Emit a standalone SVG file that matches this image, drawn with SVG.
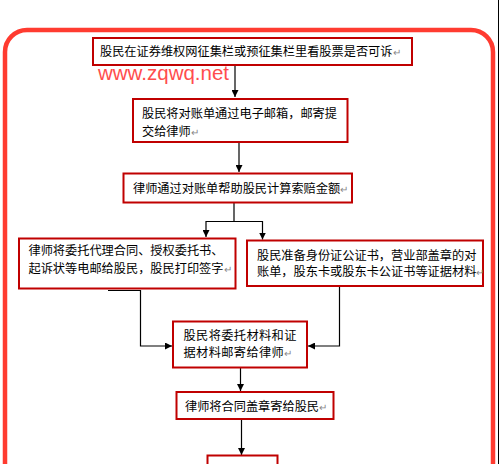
<svg xmlns="http://www.w3.org/2000/svg" width="500" height="464" viewBox="0 0 500 464">
<style>
.box{fill:#fff;stroke:#c00000;stroke-width:2}
.t{font-family:"Noto Sans CJK SC","Noto Sans",sans-serif;font-size:12.2px;fill:#000}
.pm{fill:#888;font-size:10px}
.c{fill:none;stroke:#000;stroke-width:1.2}
</style>
<defs>
<marker id="ah" viewBox="0 0 8 8" refX="8" refY="4" markerWidth="7" markerHeight="7" markerUnits="userSpaceOnUse" orient="auto">
<path d="M0,0 L8,4 L0,8 z" fill="#000"/>
</marker>
</defs>
<rect width="500" height="464" fill="#fff"/>
<line x1="498.5" y1="0" x2="498.5" y2="464" stroke="#000" stroke-width="1"/>
<rect id="frame" x="5" y="30" width="488" height="500" rx="22" fill="none" stroke="#ff3b30" stroke-width="4.5"/>
<text id="watermark" x="98" y="80" font-family="Liberation Sans, Arial, sans-serif" font-size="20.5" fill="#ff4d4d">www.zqwq.net</text>

<g id="connectors">
<path class="c" d="M235,65 V97" marker-end="url(#ah)"/>
<path class="c" d="M239,137 V172" marker-end="url(#ah)"/>
<path class="c" d="M234,203 V221.5 H206 V237" marker-end="url(#ah)"/>
<path class="c" d="M234,221.5 H262.5 V239.5" marker-end="url(#ah)"/>
<path class="c" d="M108,290.5 H140.5 V346 H172" marker-end="url(#ah)"/>
<path class="c" d="M371.5,286 H339.5 V346 H308" marker-end="url(#ah)"/>
<path class="c" d="M240.5,368 V391" marker-end="url(#ah)"/>
<path class="c" d="M241.5,420 V455" marker-end="url(#ah)"/>
</g>

<g id="n1">
<rect class="box" x="93" y="38" width="319" height="27"/>
<text class="t" x="100" y="56">股民在证券维权网征集栏或预征集栏里看股票是否可诉<tspan class="pm">↵</tspan></text>
</g>
<g id="n2">
<rect class="box" x="133" y="99" width="214.5" height="43"/>
<text class="t" x="142" y="117.5">股民将对账单通过电子邮箱，邮寄提</text>
<text class="t" x="142" y="135.5">交给律师<tspan class="pm">↵</tspan></text>
</g>
<g id="n3">
<rect class="box" x="123.5" y="173.5" width="228.5" height="29"/>
<text class="t" x="133" y="193">律师通过对账单帮助股民计算索赔金额<tspan class="pm">↵</tspan></text>
</g>
<g id="n4">
<rect class="box" x="19" y="238.5" width="216.5" height="50" stroke-width="2.5"/>
<text class="t" x="28.5" y="255">律师将委托代理合同、授权委托书、</text>
<text class="t" x="28.5" y="273">起诉状等电邮给股民，股民打印签字<tspan class="pm">↵</tspan></text>
</g>
<g id="n5">
<rect class="box" x="247" y="240.5" width="236" height="45.5"/>
<text class="t" x="257" y="259.5" font-size="12">股民准备身份证公证书，营业部盖章的对</text>
<text class="t" x="257" y="276" font-size="12">账单，股东卡或股东卡公证书等证据材料<tspan class="pm" font-size="8">↵</tspan></text>
</g>
<g id="n6">
<rect class="box" x="173" y="321.5" width="134" height="46"/>
<text class="t" x="183.5" y="339.5" letter-spacing="0.4">股民将委托材料和证</text>
<text class="t" x="183.5" y="357" letter-spacing="0.4">据材料邮寄给律师<tspan class="pm">↵</tspan></text>
</g>
<g id="n7">
<rect class="box" x="176.5" y="392" width="157" height="27"/>
<text class="t" x="185" y="411">律师将合同盖章寄给股民<tspan class="pm">↵</tspan></text>
</g>
<g id="n8">
<rect class="box" x="207.5" y="455.5" width="70" height="30"/>
</g>
</svg>
